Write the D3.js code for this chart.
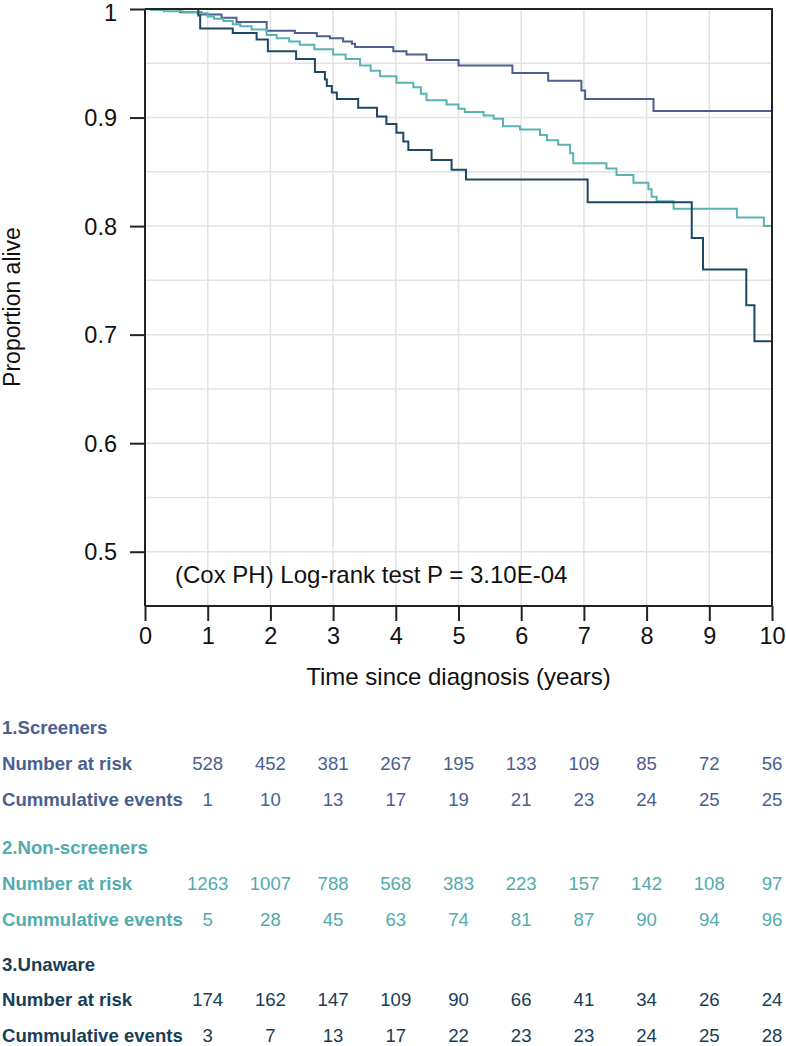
<!DOCTYPE html>
<html><head><meta charset="utf-8">
<script src="https://cdn.jsdelivr.net/npm/d3@7"></script>
<style>
body{margin:0;background:#fff}
svg{display:block}
text{font-family:"Liberation Sans",Arial,Helvetica,sans-serif}
</style>
</head><body>
<svg id="chart" width="786" height="1046"></svg>
<script>
// ---------- data ----------
const xTicks = [0,1,2,3,4,5,6,7,8,9,10];
const yTicks = [0.5,0.6,0.7,0.8,0.9,1];
const yGridVals = [0.5,0.55,0.6,0.65,0.7,0.75,0.8,0.85,0.9,0.95];
const xGridVals = [1,2,3,4,5,6,7,8,9];

const groupNames = ["1.Screeners","2.Non-screeners","3.Unaware"];
const groupColors = ["#4d5f8f","#5ab3b3","#1d4863"];
const textColors = ["#4a6091","#52abae","#173d57"];

// step times (years) and survival after each step
const screenersTime = [0.56,0.9,1.22,1.46,1.94,2.39,2.74,2.95,3.16,3.30,3.35,3.96,4.17,4.49,5.0,5.86,6.43,6.96,7.02,8.11];
const screenersSurv = [0.997,0.995,0.992,0.988,0.980,0.978,0.975,0.973,0.970,0.968,0.965,0.961,0.958,0.953,0.948,0.941,0.934,0.925,0.917,0.906];

const nonScreenersTime = [0.1,0.3,0.6,0.85,1.0,1.1,1.25,1.4,1.52,1.7,1.94,2.1,2.3,2.47,2.7,3.0,3.2,3.43,3.6,3.75,4.01,4.28,4.4,4.49,4.81,5.0,5.10,5.40,5.56,5.71,5.98,6.30,6.41,6.59,6.78,6.83,7.36,7.52,7.79,8.03,8.08,8.16,8.43,9.44,9.87];
const nonScreenersSurv = [0.999,0.998,0.997,0.996,0.993,0.991,0.989,0.986,0.984,0.981,0.976,0.973,0.970,0.967,0.963,0.958,0.954,0.948,0.943,0.938,0.932,0.928,0.922,0.916,0.912,0.908,0.905,0.902,0.899,0.892,0.889,0.884,0.879,0.875,0.867,0.858,0.853,0.847,0.840,0.834,0.827,0.823,0.816,0.808,0.800];

const unawareTime = [0.85,0.88,1.40,1.78,1.96,2.41,2.71,2.87,2.90,2.98,3.06,3.40,3.70,3.85,4.01,4.12,4.20,4.57,4.89,5.12,7.06,8.72,8.90,9.59,9.72];
const unawareSurv = [0.994,0.982,0.978,0.972,0.961,0.954,0.942,0.935,0.929,0.923,0.917,0.909,0.901,0.894,0.886,0.878,0.870,0.861,0.852,0.843,0.822,0.789,0.760,0.727,0.694];

const riskTimes = [1,2,3,4,5,6,7,8,9,10];
const screenersAtRisk = [528,452,381,267,195,133,109,85,72,56];
const screenersEvents = [1,10,13,17,19,21,23,24,25,25];
const nonScreenersAtRisk = [1263,1007,788,568,383,223,157,142,108,97];
const nonScreenersEvents = [5,28,45,63,74,81,87,90,94,96];
const unawareAtRisk = [174,162,147,109,90,66,41,34,26,24];
const unawareEvents = [3,7,13,17,22,23,23,24,25,28];

const pText = "(Cox PH) Log-rank test P = 3.10E-04";
const xTitle = "Time since diagnosis (years)";
const yTitle = "Proportion alive";

// ---------- layout ----------
const svg = d3.select("#chart");
const L = 145, R = 772, T = 9, B = 606;
const x = d3.scaleLinear().domain([0,10]).range([L,R]);
const y = d3.scaleLinear().domain([0.45,1]).range([B,T]);

// grid
svg.append("g").selectAll("line").data(yGridVals).join("line")
  .attr("x1",L).attr("x2",R).attr("y1",d=>y(d)).attr("y2",d=>y(d))
  .attr("stroke","#e2e2e2").attr("stroke-width",1.5);
svg.append("g").selectAll("line").data(xGridVals).join("line")
  .attr("y1",T).attr("y2",B).attr("x1",d=>x(d)).attr("x2",d=>x(d))
  .attr("stroke","#e2e2e2").attr("stroke-width",1.5);

// curves
const line = d3.line().x(d=>x(d[0])).y(d=>y(d[1])).curve(d3.curveStepAfter);
function pts(times, surv){
  const p = [[0,1]];
  times.forEach((t,i)=>p.push([t,surv[i]]));
  p.push([10, surv[surv.length-1]]);
  return p;
}
const series = [pts(screenersTime,screenersSurv), pts(nonScreenersTime,nonScreenersSurv), pts(unawareTime,unawareSurv)];
series.forEach((s,i)=>{
  svg.append("path").attr("d",line(s)).attr("fill","none")
    .attr("stroke",groupColors[i]).attr("stroke-width",2).attr("stroke-linejoin","miter");
});

// frame (top, right)
svg.append("path").attr("d",`M${L},${T}H${R}V${B}`).attr("fill","none").attr("stroke","#222").attr("stroke-width",2);

// axes
const xAxis = d3.axisBottom(x).tickValues(xTicks).tickSize(15).tickPadding(6).tickFormat(d3.format("d"));
const gx = svg.append("g").attr("transform",`translate(0,${B})`).call(xAxis);
const yAxis = d3.axisLeft(y).tickValues(yTicks).tickSize(15).tickPadding(13).tickFormat(d=>d===1?"1":d3.format(".1f")(d));
const gy = svg.append("g").attr("transform",`translate(${L},0)`).call(yAxis);
[gx,gy].forEach(g=>{
  g.select(".domain").attr("stroke","#222").attr("stroke-width",2);
  g.selectAll(".tick line").attr("stroke","#222").attr("stroke-width",2);
  g.selectAll(".tick text").attr("fill","#111").style("font-size","23.5px").style("font-family",'"Liberation Sans",Arial,sans-serif');
});
gx.select(".domain").attr("d",`M${L},0H${R}`);
gy.select(".domain").attr("d",`M0,${T}V${B}`);
gy.selectAll(".tick text").attr("dy","0.35em");
// keep top label inside the picture
gy.selectAll(".tick text").filter(d=>d===1).attr("dy","0.5em");

// texts
svg.append("text").attr("x",175).attr("y",583).text(pText).attr("fill","#111").style("font-size","24px");
svg.append("text").attr("x",(L+R)/2).attr("y",685).attr("text-anchor","middle").text(xTitle).attr("fill","#111").style("font-size","24px");
svg.append("text").attr("transform",`translate(20,307) rotate(-90)`).attr("text-anchor","middle").text(yTitle).attr("fill","#111").style("font-size","23px");

// risk table
const tableData = [
  {atRisk:screenersAtRisk, events:screenersEvents, y0:727, dy:36},
  {atRisk:nonScreenersAtRisk, events:nonScreenersEvents, y0:847, dy:36},
  {atRisk:unawareAtRisk, events:unawareEvents, y0:964, dy:35.5}
];
tableData.forEach((g,i)=>{
  const c = textColors[i];
  const gg = svg.append("g").attr("fill",c).style("font-size","18.6px");
  gg.append("text").attr("x",2).attr("y",g.y0).attr("dominant-baseline","central").style("font-weight","bold").text(groupNames[i]);
  gg.append("text").attr("x",2).attr("y",g.y0+g.dy).attr("dominant-baseline","central").style("font-weight","bold").text("Number at risk");
  gg.append("text").attr("x",2).attr("y",g.y0+2*g.dy).attr("dominant-baseline","central").style("font-weight","bold").text("Cummulative events");
  gg.append("g").selectAll("text").data(g.atRisk).join("text")
    .attr("x",(d,j)=>x(riskTimes[j])).attr("y",g.y0+g.dy).attr("text-anchor","middle").attr("dominant-baseline","central").text(d=>d);
  gg.append("g").selectAll("text").data(g.events).join("text")
    .attr("x",(d,j)=>x(riskTimes[j])).attr("y",g.y0+2*g.dy).attr("text-anchor","middle").attr("dominant-baseline","central").text(d=>d);
});
</script>
</body></html>
